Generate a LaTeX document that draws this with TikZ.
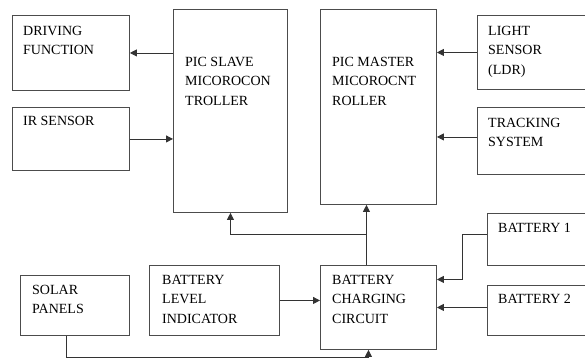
\documentclass[tikz,border=0pt]{standalone}
\usepackage{fontspec}
\setmainfont{Liberation Serif}
\usepackage{tikz}
\usetikzlibrary{arrows.meta,positioning,calc}

\begin{document}
\begin{tikzpicture}[x=1pt,y=-1pt,
  blk/.style={rectangle,draw=black!70,line width=0.9pt,anchor=north west,inner sep=0pt},
  txt/.style={anchor=north west,inner sep=0pt,align=left,
              font=\fontsize{14}{19.5}\selectfont},
  arr/.style={-{Triangle[length=7pt,width=7pt]},line width=0.8pt,draw=black!80}
]
  \useasboundingbox (0,0) rectangle (585,358);
  \clip (0,0) rectangle (585,358);

  % boxes
  \node[blk,minimum width=117,minimum height=75](drive) at (12,15)  {};
  \node[blk,minimum width=117,minimum height=63](ir)    at (12,107) {};
  \node[blk,minimum width=114,minimum height=203](slave)at (173,9)  {};
  \node[blk,minimum width=116,minimum height=195](master)at (320,9) {};
  \node[blk,minimum width=130,minimum height=74](light) at (477,15) {};
  \node[blk,minimum width=130,minimum height=67](track) at (477,107){};
  \node[blk,minimum width=109,minimum height=60](solar) at (20,275) {};
  \node[blk,minimum width=130,minimum height=70](bli)   at (149,265){};
  \node[blk,minimum width=116,minimum height=84](charge)at (320,265){};
  \node[blk,minimum width=120,minimum height=52](bat1)  at (487,213){};
  \node[blk,minimum width=120,minimum height=50](bat2)  at (487,285){};

  % texts
  \node[txt](drive-t)  at (23,26)  {DRIVING\\FUNCTION};
  \node[txt](ir-t)     at (23,116) {IR SENSOR};
  \node[txt](slave-t)  at (185,57) {PIC SLAVE\\MICOROCON\\TROLLER};
  \node[txt](master-t) at (332,57) {PIC MASTER\\MICOROCNT\\ROLLER};
  \node[txt](light-t)  at (488,26) {LIGHT\\SENSOR\\(LDR)};
  \node[txt](track-t)  at (488,118){TRACKING\\SYSTEM};
  \node[txt](solar-t)  at (32,285) {SOLAR\\PANELS};
  \node[txt](bli-t)    at (162,275){BATTERY\\LEVEL\\INDICATOR};
  \node[txt](charge-t) at (332,275){BATTERY\\CHARGING\\CIRCUIT};
  \node[txt](bat1-t)   at (498,223){BATTERY 1};
  \node[txt](bat2-t)   at (498,294){BATTERY 2};

  % connectors
  \coordinate (ctop) at ([xshift=-12pt]charge.north);
  \coordinate (split) at ($(ctop)+(0,-31)$);
  \coordinate (sbot) at ([xshift=-9pt]solar.south);
  \coordinate (cbot) at ([xshift=-10pt]charge.south);

  \draw[arr](slave.west |- drive.east)--(drive.east);
  \draw[arr](ir.east)--(ir.east -| slave.west);
  \draw[arr](light.west)--(light.west -| master.east);
  \draw[arr]([yshift=4pt]track.west)--([yshift=4pt]track.west -| master.east);
  \draw[arr](ctop)--(ctop |- master.south);
  \draw[arr](split)-|(slave.south);
  \draw[arr](bli.east)--(bli.east -| charge.west);
  \draw[arr]([yshift=5pt]bat1.west)--++(-25,0)|-([yshift=28pt]charge.east);
  \draw[arr]([yshift=3pt]bat2.west)--([yshift=3pt]bat2.west -| charge.east);
  \draw[arr](sbot)--++(0,21)-|(cbot);
\end{tikzpicture}
\end{document}
